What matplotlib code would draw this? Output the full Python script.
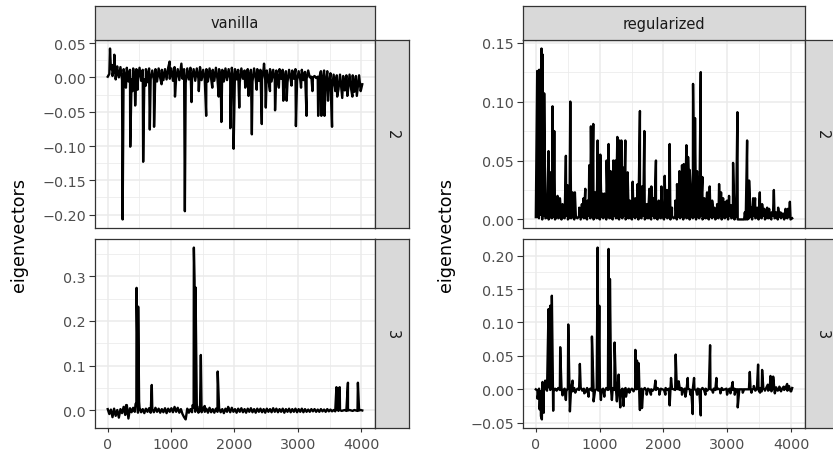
import numpy as np
import matplotlib
matplotlib.use("Agg")
import matplotlib.pyplot as plt

plt.rcParams['font.family'] = ['DejaVu Sans']

# =========================================================
# DATA  (y values in thousandths, x = feature index)
# =========================================================

N_LAST = 4016

# vanilla, eigenvector 2 -- background band, read every ~25 indices
van2_base = [1, 5, 12, 2, 14, -3, 13, 0, 15, -4, 12, -2, 14, -6, 11, -3, 13, -8, 12, -2,
             14, -5, 11, -3, 12, -7, 13, -2, 10, -4, 12, -6, 13, -1, 11, -4, 12, -3, 14, -2,
             13, -5, 15, -1, 12, -4, 14, -2, 12, -8, 13, -3, 14, -1, 12, -5, 13, -2, 15, -4,
             11, -3, 12, -6, 13, -2, 11, -5, 14, -3, 12, -1, 11, -6, 13, -4, 12, -2, 14, -5,
             12, -3, 11, -7, 13, -2, 10, -4, 12, -3, 11, -6, 13, -2, 12, -5, 11, -3, 13, -4,
             10, -2, 12, -6, 11, -3, 10, -5, 12, -2, 11, -4, 9, -7, 11, -3, 10, -2, 12, -5,
             9, -3, 11, -4, 8, -2, 10, 0, 1, 0, 2, -1, 1, 0, 9, -6, 10, -8, 9, -12,
             6, -15, 4, -20, 3, -18, 4, -21, 2, -19, 3, -20, 4, -17, 3, -21, 2, -18, 3, -20,
             -10]
van2_spike_x = [36, 70, 104, 150, 235, 287, 355, 392, 433, 471, 559, 601, 664, 731,
                850, 977, 1061, 1162, 1217, 1322, 1437, 1553, 1650, 1751, 1793, 1934,
                1986, 2075, 2170, 2222, 2274, 2350, 2431, 2466, 2494, 2560, 2640, 2700,
                2770, 2823, 2900, 2969, 3050, 3137, 3230, 3320, 3370, 3420, 3476, 3539,
                3620, 3700, 3780, 3860, 3930]
van2_spike_y = [42, 18, 33, 16, -207, -15, -101, -20, -41, -18, -123, -12, -76, -72,
                -10, 23, -28, 20, -195, -36, -20, -56, -15, -28, -65, -74,
                -104, -44, -15, -27, -83, -18, -68, 20, -44, -20, -48, -15,
                -34, -34, -12, -71, -15, -56, -20, -56, -56, -56, -34, -72,
                -28, -30, -27, -28, -27]

# vanilla, eigenvector 3
van3_base = [3, -8, 2, -15, 4, -12, 1, -16, 3, -6, 8, -10, 12, -18, 5, -4, 6, -3, 14, -5,
             6, -4, 3, -6, 4, -3, 5, -5, 3, -4, 6, -3, 4, -5, 3, -4, 5, -6, 4, -3,
             5, -4, 8, -3, 6, -5, 3, -8, -15, -20, 4, -5, 3, -4, 6, -3, 4, -5, 3, -4,
             5, -3, 4, -5, 6, -4, 3, -5, 4, -3, 5, -4, 3, -6, 4, -3, 5, -4, 6, -3,
             3, -5, 4, -3, 5, -4, 3, -5, 4, -3, 5, -4, 3, -5, 4, -3, 4, -4, 3, -5,
             4, -3, 3, -4, 5, -3, 4, -4, 3, -3, 4, -5, 3, -3, 4, -4, 3, -3, 4, -4,
             3, -3, 4, -4, 3, -3, 2, -3, 3, -2, 3, -3, 2, -3, 3, -2, 2, -3, 3, -2,
             2, -2, 1, -2, 1, -1, 1, -1, 0, 1, -1, 0, 1, 0, -1, 1, 0, -1, 0, 1,
             0]
van3_spike_x = [290, 440, 455, 470, 480, 495, 695, 1340, 1359, 1370, 1385, 1410,
                1469, 1530, 1735, 1900, 3608, 3625, 3650, 3660, 3790, 3947]
van3_spike_y = [12, 15, 274, 120, 232, 20, 57, 12, 364, 290, 275, 10,
                124, 10, 87, 8, 52, 50, 50, 52, 62, 62]

# regularized, eigenvector 2
reg2_base = [2, 3, 1, 4, 0, 3, 1, 2, 0, 3, 1, 2, 0, 3, 1, 2, 0, 2, 1, 3,
             0, 2, 1, 3, 0, 2, 1, 3, 0, 2, 1, 2, 0, 3, 1, 2, 0, 3, 1, 2,
             0, 2, 1, 3, 0, 2, 1, 2, 0, 3, 1, 2, 0, 2, 1, 3, 0, 2, 1, 2,
             0, 3, 1, 2, 0, 2, 1, 3, 0, 2, 1, 2, 0, 3, 1, 2, 0, 2, 1, 3,
             0, 2, 1, 2, 0, 3, 1, 2, 0, 2, 1, 3, 0, 2, 1, 2, 0, 3, 1, 2,
             0, 2, 1, 3, 0, 2, 1, 2, 0, 3, 1, 2, 0, 2, 1, 3, 0, 2, 1, 2,
             0, 3, 1, 2, 0, 2, 0, 0, 0, 0, 0, 0, 0, 1, 2, 0, 3, 1, 2, 0,
             2, 1, 3, 0, 2, 1, 2, 0, 3, 1, 2, 0, 2, 1, 3, 0, 2, 1, 2, 0,
             1]
reg2_spike_x = [22, 53, 89, 105, 131, 147, 199, 230, 262, 289, 340, 377, 419, 471,
                497, 540, 576, 612, 680, 722, 748, 775, 811, 837, 863, 900, 932, 968,
                1010, 1035, 1073, 1109, 1140, 1172, 1214, 1246, 1277, 1308, 1340, 1371,
                1402, 1438, 1474, 1517, 1559, 1595, 1631, 1663, 1700, 1737, 1779, 1810,
                1846, 1882, 1925, 1967, 2019, 2055, 2097, 2133, 2186, 2212, 2250, 2290,
                2317, 2333, 2359, 2385, 2411, 2432, 2463, 2494, 2526, 2557, 2584, 2610,
                2641, 2683, 2724, 2762, 2799, 2840, 2871, 2902, 2934, 2970, 2996, 3027,
                3059, 3090, 3121, 3158, 3274, 3310, 3341, 3373, 3404, 3435, 3467, 3509,
                3545, 3582, 3624, 3655, 3692, 3729, 3765, 3796, 3834, 3870, 3912, 3948,
                3980]
reg2_spike_y = [126, 127, 145, 140, 107, 25, 58, 40, 96, 75, 20, 18, 13, 54,
                29, 100, 23, 23, 10, 13, 18, 26, 16, 46, 79, 81, 23, 67,
                55, 22, 22, 50, 64, 41, 50, 50, 70, 67, 67, 44,
                67, 40, 16, 32, 18, 30, 92, 28, 75, 13, 26, 28,
                18, 50, 16, 28, 37, 25, 64, 10, 16, 30, 41, 46,
                47, 38, 63, 53, 42, 22, 115, 86, 41, 36, 125, 36,
                18, 23, 28, 16, 10, 13, 30, 23, 18, 15, 16, 20,
                12, 48, 13, 91, 6, 67, 33, 10, 18, 18, 10, 23,
                13, 9, 10, 9, 6, 25, 6, 10, 6, 5, 9, 9,
                15]

# regularized, eigenvector 3
reg3_base = [0, -2, 1, -3, 2, -4, 1, -2, 3, -1, 2, -3, 1, -2, 2, -1, 3, -2, 1, -3,
             2, -1, 1, -3, 2, -2, 1, -1, 3, -2, 1, -4, 2, -1, 1, -2, 3, -1, 0, -2,
             2, -1, 1, -3, 2, -1, 0, -2, 2, -1, 1, -2, 2, -3, 1, -1, 2, -2, 1, -1,
             1, -3, 2, 0, 1, -2, 1, -1, 2, -2, 1, -1, 0, -2, 1, -1, 2, -1, 1, 0,
             -1, 2, -1, 1, -2, 1, 0, -1, 1, 0, -1, 2, -1, 1, -2, 1, 0, -1, 1, 0,
             -1, 1, 0, -1, 2, -1, 1, -2, 1, 0, -1, 1, -1, 0, 1, -1, 2, -1, 0, 1,
             -1, 1, 0, -1, 1, 0, 0, 0, 0, 0, 0, 0, 0, 0, 1, -1, 2, -2, 1, -1,
             2, -3, 1, -2, 3, -2, 1, -3, 2, -1, 3, -2, 4, -3, 2, -1, 3, -2, 5, -3,
             2]
reg3_spike_x = [27, 60, 80, 95, 105, 125, 147, 168, 199, 225, 251, 272, 314, 382,
                419, 471, 508, 534, 576, 618, 690, 759, 827, 879, 905, 968, 994, 1020,
                1073, 1140, 1161, 1192, 1234, 1270, 1297, 1323, 1376, 1412, 1465, 1559,
                1585, 1612, 1631, 1663, 1737, 1804, 1873, 1935, 2030, 2097, 2118, 2191,
                2238, 2290, 2343, 2380, 2422, 2458, 2479, 2526, 2584, 2657, 2730, 2776,
                2829, 2892, 2996, 3049, 3085, 3116, 3163, 3242, 3352, 3378, 3415, 3482,
                3513, 3545, 3582, 3634, 3676, 3718, 3744, 3807, 3885, 3937, 3969, 4000]
reg3_spike_y = [-14, -30, -40, -45, 11, -35, 13, 0, 120, 125, 140, -32, 0, 63,
                -9, -16, 97, -33, 13, -5, 38, -6, -11, 79, -18, 212, 125, -16,
                -11, 210, 165, -16, 70, -18, 22, -27, -25, -11, -5, 59,
                43, 39, -31, -28, -8, -8, 13, -8, -8, -24, 17, 52,
                12, -8, -11, 17, -8, -37, 17, -8, -39, -8, 66, -5,
                17, -6, -8, -6, 11, -8, -27, -5, 26, -5, 5, 37,
                -5, 29, 0, 7, 20, 19, -6, 0, 4, 8, 4, -3]

columns = ["vanilla", "regularized"]
rows = ["2", "3"]

x_major = [0, 1000, 2000, 3000, 4000]
x_minor = [500, 1500, 2500, 3500]

# =========================================================
# HELPERS
# =========================================================

W, H = 833, 456
GRID = "#EBEBEB"
DARK = "#333333"
TICK_SIZE = 10.3
STRIP_SIZE = 10.5


def build_series(base, spike_x, spike_y):
    base_x = np.linspace(0, N_LAST, len(base))
    x = np.concatenate([base_x, np.array(spike_x, dtype=float)])
    y = np.concatenate([np.array(base, dtype=float), np.array(spike_y, dtype=float)]) / 1000.0
    order = np.argsort(x, kind="stable")
    return x[order], y[order]


def box(x0, y0, x1, y1):
    # pixel box measured from the top-left corner
    return [x0 / W, 1 - y1 / H, (x1 - x0) / W, (y1 - y0) / H]


def expand(lo, hi):
    pad = (hi - lo) * 0.05
    return lo - pad, hi + pad


def fmt(v, nd):
    s = f"{v:.{nd}f}"
    return s.replace("-", "\u2212")


def draw_panel(rect, series, y_major, y_minor, nd, bottom):
    ax = fig.add_axes(box(*rect))
    x, y = series
    ax.plot(x, y, color="black", lw=1.7)
    ax.set_xlim(*expand(0, N_LAST))
    ax.set_ylim(*expand(y.min(), y.max()))
    ax.set_xticks(x_major)
    ax.set_xticks(x_minor, minor=True)
    ax.set_yticks(y_major)
    ax.set_yticks(y_minor, minor=True)
    ax.set_yticklabels([fmt(v, nd) for v in y_major])
    ax.set_xticklabels([str(v) for v in x_major])
    ax.grid(which="major", color=GRID, lw=1.1)
    ax.grid(which="minor", color=GRID, lw=0.55)
    ax.set_axisbelow(True)
    ax.tick_params(which="minor", length=0)
    ax.tick_params(which="major", width=0.8, color=DARK,
                   labelcolor="#4D4D4D", labelsize=TICK_SIZE)
    ax.tick_params(axis="y", which="major", length=4.3, pad=2.2)
    ax.tick_params(axis="x", which="major", length=2.6, pad=3.6)
    if not bottom:
        ax.tick_params(axis="x", which="major", length=0, labelbottom=False)
    for sp in ax.spines.values():
        sp.set_color(DARK)
        sp.set_linewidth(0.9)
    return ax


def draw_strip(rect, label, rotation=0):
    ax = fig.add_axes(box(*rect))
    ax.set_facecolor("#D9D9D9")
    ax.set_xticks([])
    ax.set_yticks([])
    for sp in ax.spines.values():
        sp.set_color(DARK)
        sp.set_linewidth(0.9)
    ax.text(0.5, 0.5, label, transform=ax.transAxes, ha="center", va="center",
            rotation=rotation, color="#1A1A1A", fontsize=STRIP_SIZE)
    return ax


# =========================================================
# FIGURE
# =========================================================

fig = plt.figure(figsize=(W / 100, H / 100), dpi=100)

# left block: vanilla
draw_panel((95, 41, 375, 229), build_series(van2_base, van2_spike_x, van2_spike_y),
           [-0.20, -0.15, -0.10, -0.05, 0.0, 0.05],
           [-0.175, -0.125, -0.075, -0.025, 0.025], 2, False)
draw_panel((95, 240, 375, 429), build_series(van3_base, van3_spike_x, van3_spike_y),
           [0.0, 0.1, 0.2, 0.3], [0.05, 0.15, 0.25, 0.35], 1, True)
draw_strip((95, 7, 375, 41), columns[0])
draw_strip((375, 41, 409, 229), rows[0], rotation=-90)
draw_strip((375, 240, 409, 429), rows[1], rotation=-90)
fig.text(19 / W, 1 - 235 / H, "eigenvectors", rotation=90, ha="center", va="center",
         fontsize=12.6, color="black")

# right block: regularized
draw_panel((523, 41, 805, 229), build_series(reg2_base, reg2_spike_x, reg2_spike_y),
           [0.0, 0.05, 0.10, 0.15], [0.025, 0.075, 0.125], 2, False)
draw_panel((523, 240, 805, 429), build_series(reg3_base, reg3_spike_x, reg3_spike_y),
           [-0.05, 0.0, 0.05, 0.10, 0.15, 0.20],
           [-0.025, 0.025, 0.075, 0.125, 0.175], 2, True)
draw_strip((523, 7, 805, 41), columns[1])
draw_strip((805, 41, 839, 229), rows[0], rotation=-90)
draw_strip((805, 240, 839, 429), rows[1], rotation=-90)
fig.text(446 / W, 1 - 235 / H, "eigenvectors", rotation=90, ha="center", va="center",
         fontsize=12.6, color="black")

fig.savefig("out.png", dpi=100)
